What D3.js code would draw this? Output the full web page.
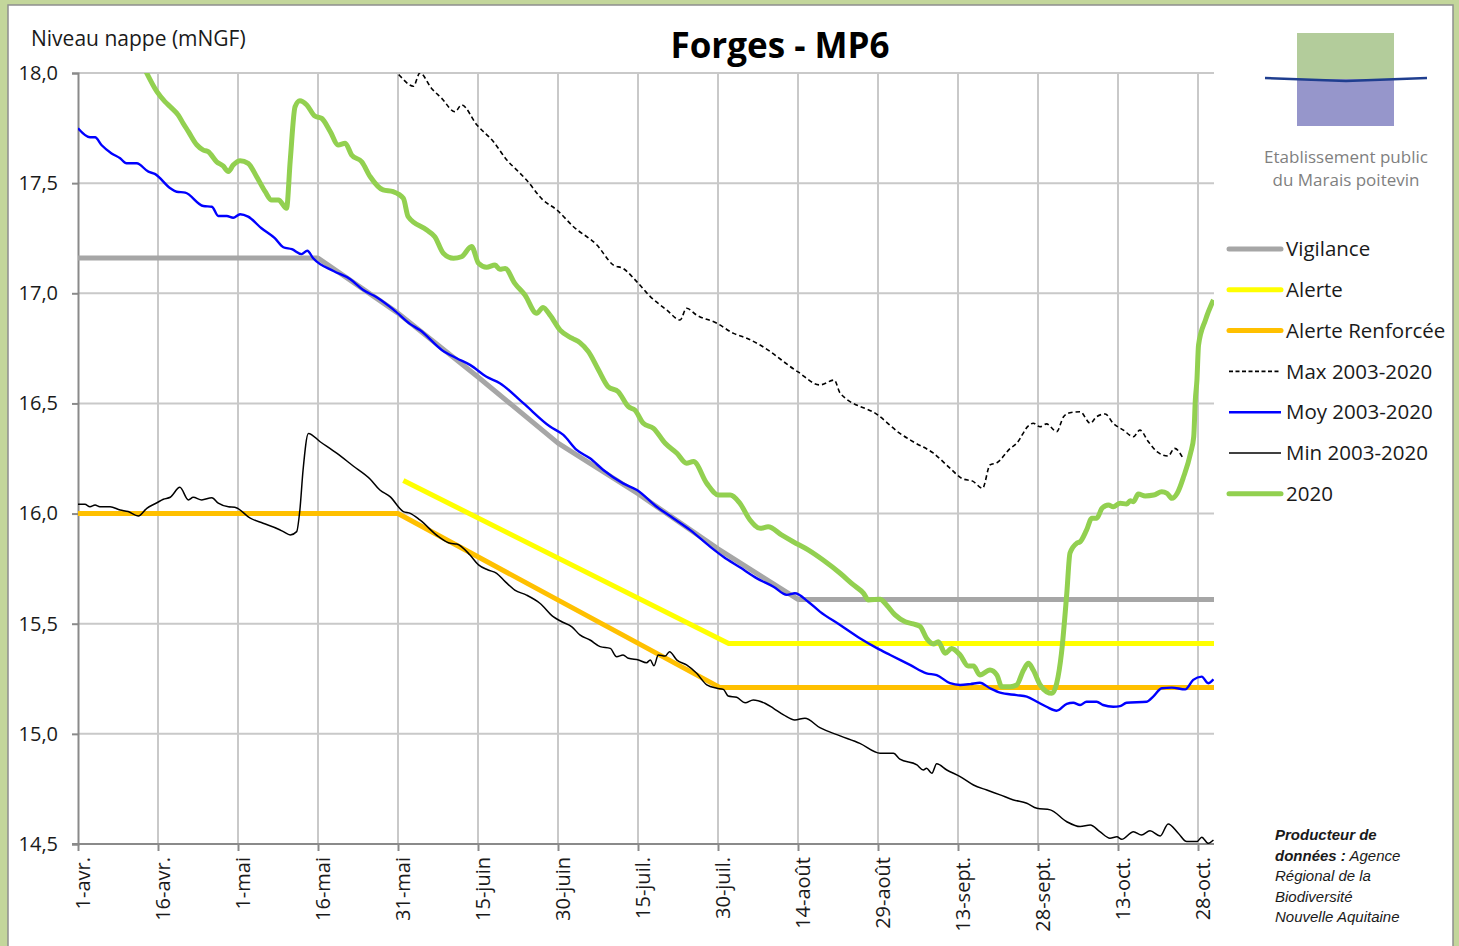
<!DOCTYPE html>
<html>
<head>
    <meta charset="utf-8">
    <title>Forges - MP6</title>
    <style type="text/css">
        body{margin:0;background:#c3d69b;}
        svg{display:block;font-family:'Open Sans', sans-serif;}
    </style>
</head>
<body>
    <script src="https://d3js.org/d3.v7.min.js"></script>
    <script>
      // x values are days since 1 April 2020, y values are levels in mNGF
      var tickDays   = [0, 15, 30, 45, 60, 75, 90, 105, 120, 135, 150, 165, 180, 195, 210];
      var tickLabels = ["1-avr.", "16-avr.", "1-mai", "16-mai", "31-mai", "15-juin", "30-juin", "15-juil.",
                        "30-juil.", "14-août", "29-août", "13-sept.", "28-sept.", "13-oct.", "28-oct."];
      var yTicks = [14.5, 15, 15.5, 16, 16.5, 17, 17.5, 18];

      var vigilance = [[0,17.16],[45,17.16],[60,16.91],[75,16.62],[90,16.32],[105,16.09],[120,15.84],[135,15.61],[213,15.61]];
      var alerte = [[61,16.15],[122,15.41],[213,15.41]];
      var alerteRenforcee = [[0,16.0],[60,16.0],[120.4,15.21],[213,15.21]];

      var maxSerie = [[57,18.06],[59.8,18.0],[62.9,17.94],[64.1,18.0],[66.3,17.93],[68.2,17.885],[70.7,17.824],[71.9,17.855],
        [74.8,17.764],[77.9,17.688],[80.4,17.605],[82.6,17.552],[84.1,17.514],[87.2,17.423],[89.8,17.378],[92.9,17.302],
        [97.3,17.219],[100.4,17.128],[102.2,17.113],[104.8,17.052],[107.3,16.985],[110.4,16.924],[112.9,16.879],[114.1,16.932],
        [116,16.901],[119.8,16.864],[122.9,16.818],[125.4,16.796],[127.9,16.765],[135,16.643],[139.1,16.584],[141.8,16.606],
        [142.9,16.547],[150,16.447],[154.1,16.364],[156.6,16.326],[160.4,16.274],[163.5,16.206],[165.7,16.16],[167.9,16.145],
        [169.6,16.115],[171,16.221],[172.3,16.231],[174.8,16.296],[176,16.319],[178.2,16.398],[179.1,16.41],[180.4,16.394],
        [181.6,16.407],[183.5,16.372],[184.8,16.44],[186,16.458],[187.9,16.462],[189.8,16.41],[191,16.44],[192.6,16.452],
        [194.1,16.41],[196,16.379],[197.9,16.349],[199.1,16.379],[200.7,16.326],[202.3,16.281],[204.4,16.261],[205.6,16.296],
        [207.2,16.251]];

      var moySerie = [[0,17.749],[2.25,17.708],[3.2,17.708],[4.4,17.673],[6.3,17.635],[7.9,17.613],[9.1,17.59],[11,17.59],
        [13.2,17.552],[14.4,17.542],[17.3,17.477],[18.5,17.461],[20.1,17.457],[23.5,17.396],[25.1,17.393],[26.3,17.351],
        [27.9,17.351],[29.1,17.343],[30.4,17.359],[31.9,17.348],[34.4,17.295],[36.9,17.25],[38.5,17.209],[40.1,17.2],
        [41.9,17.178],[43,17.193],[44.1,17.159],[47.9,17.101],[51,17.065],[53.5,17.015],[56,16.982],[59.1,16.927],
        [62.3,16.86],[64.1,16.833],[68.2,16.743],[71,16.705],[73.5,16.675],[76.6,16.621],[79.1,16.592],[83.5,16.501],
        [88.5,16.395],[91,16.357],[93.5,16.289],[96,16.251],[98.5,16.198],[102.2,16.137],[104.8,16.107],[108.5,16.031],
        [111.6,15.979],[114.8,15.925],[118.5,15.85],[121,15.804],[124.1,15.756],[127.3,15.706],[130.4,15.668],[132.9,15.631],
        [134.4,15.638],[136.9,15.6],[139.1,15.555],[142.9,15.494],[146.6,15.434],[149.8,15.389],[152.3,15.358],[156,15.313],
        [159.1,15.275],[161,15.267],[163.5,15.23],[165.4,15.222],[167.3,15.226],[169.1,15.232],[171,15.207],[172.9,15.187],
        [176,15.176],[177.9,15.169],[179.8,15.146],[181.6,15.123],[183.5,15.105],[185.4,15.136],[186.6,15.141],[187.9,15.131],
        [189.1,15.146],[191,15.146],[192.2,15.131],[194.1,15.123],[195.4,15.126],[196.6,15.141],[200.4,15.146],[201.6,15.169],
        [203.2,15.207],[205.1,15.21],[207.6,15.202],[209.1,15.245],[210.7,15.26],[211.9,15.23],[212.9,15.248]];

      var minSerie = [[0,16.042],[1.3,16.042],[2.25,16.031],[3.2,16.039],[4.1,16.031],[6,16.031],[7.9,16.016],[9.4,16.009],
        [11.3,15.989],[12.9,16.024],[14.8,16.049],[16,16.065],[17.3,16.074],[19.1,16.119],[20.7,16.062],[21.6,16.074],
        [23.2,16.062],[25.1,16.072],[26.3,16.047],[28.2,16.031],[29.4,16.029],[32.3,15.979],[34.7,15.956],[37.6,15.929],
        [38.5,15.918],[39.8,15.903],[41,15.918],[41.6,16.016],[42.2,16.198],[43.2,16.364],[45.4,16.326],[48.5,16.274],
        [51.6,16.216],[54.8,16.156],[56.6,16.107],[58.5,16.077],[61,16.009],[62.3,16.001],[64.1,15.971],[67.6,15.895],
        [69.8,15.865],[71,15.862],[73.5,15.812],[75.1,15.767],[76.9,15.744],[78.5,15.729],[80.1,15.691],[81.9,15.653],
        [84.1,15.63],[86.6,15.593],[89.1,15.532],[90.7,15.509],[92.6,15.486],[94.1,15.449],[96,15.426],[97.9,15.396],
        [99.8,15.388],[101,15.35],[102.2,15.358],[103.2,15.343],[105.1,15.335],[106.6,15.323],[107.3,15.335],[108,15.309],
        [108.8,15.358],[110.1,15.353],[110.9,15.373],[112.3,15.335],[114.1,15.313],[116,15.275],[117.9,15.222],[119.8,15.207],
        [121,15.202],[121.9,15.172],[123.5,15.166],[125.1,15.141],[126.6,15.154],[128.8,15.139],[130.4,15.116],[132.3,15.086],
        [134.4,15.063],[136.3,15.071],[139.1,15.028],[142.9,14.991],[146.6,14.957],[150.4,14.912],[152.9,14.912],[154.1,14.885],
        [157.3,14.859],[158.5,14.836],[159.1,14.844],[160.1,14.821],[161,14.864],[162.9,14.836],[165.4,14.806],[167.9,14.768],
        [170.4,14.745],[172.9,14.723],[175.4,14.7],[177.9,14.685],[179.8,14.662],[182.3,14.655],[185.4,14.601],[187.9,14.579],
        [189.8,14.586],[191.6,14.556],[193.5,14.526],[194.8,14.533],[195.7,14.521],[197.9,14.556],[199.4,14.541],[201,14.56],
        [202.9,14.536],[204.4,14.591],[206.3,14.549],[207.9,14.511],[209.8,14.511],[210.7,14.531],[211.9,14.503],[212.9,14.518]];

      var serie2020 = [[11,18.1],[12.9,17.999],[14.8,17.915],[16.3,17.87],[17.3,17.847],[18.8,17.809],[19.7,17.772],[20.7,17.734],
        [22.3,17.673],[23.5,17.65],[24.4,17.643],[26,17.597],[27.2,17.578],[28.2,17.553],[29.1,17.582],[30.4,17.602],
        [31.9,17.59],[33.5,17.529],[35.1,17.461],[36.3,17.423],[37.6,17.423],[39.1,17.386],[39.8,17.605],[40.7,17.847],
        [41.6,17.874],[42.9,17.855],[44.4,17.805],[45.7,17.794],[47.3,17.734],[48.8,17.673],[50.1,17.681],[51.3,17.628],
        [53.2,17.597],[54.8,17.529],[57.2,17.469],[59.1,17.461],[61,17.431],[61.9,17.348],[65.4,17.287],[66.9,17.257],
        [68.5,17.182],[70.4,17.159],[71.9,17.166],[73.8,17.212],[75.1,17.136],[76.6,17.118],[78.2,17.128],[79.1,17.109],
        [80.1,17.113],[81.9,17.045],[83.8,16.992],[86,16.909],[87.2,16.936],[88.5,16.901],[90.4,16.833],[92.6,16.796],
        [94.1,16.776],[95.7,16.735],[97.6,16.652],[99.4,16.576],[101.3,16.553],[103.2,16.485],[104.4,16.47],[106,16.41],
        [107.9,16.387],[110.1,16.319],[112.3,16.274],[114.1,16.229],[115.4,16.236],[117.9,16.137],[120.1,16.084],[122.3,16.084],
        [124.1,16.047],[126,15.971],[127.9,15.933],[129.4,15.94],[131.9,15.903],[134.1,15.872],[136.9,15.835],[139.7,15.789],
        [142.9,15.729],[145.4,15.676],[147.3,15.638],[148.2,15.608],[150.4,15.611],[151.6,15.585],[153.2,15.54],[155.1,15.509],
        [156.6,15.499],[157.9,15.487],[159.1,15.434],[160.4,15.408],[161.3,15.418],[162.6,15.366],[163.8,15.388],[165.4,15.358],
        [166.9,15.308],[167.9,15.308],[169.1,15.267],[171,15.29],[172.3,15.267],[173.2,15.214],[174.8,15.214],[176,15.222],
        [177.3,15.29],[178.2,15.32],[179.1,15.29],[180.4,15.222],[181.6,15.191],[182.6,15.184],[183.5,15.229],[184.4,15.366],
        [185.4,15.638],[186,15.821],[187.3,15.866],[187.9,15.872],[189.1,15.925],[190.1,15.979],[191,15.979],[192,16.024],
        [193.2,16.039],[194.1,16.031],[195.4,16.047],[196.6,16.043],[197.3,16.058],[197.9,16.054],[198.8,16.089],[200.1,16.08],
        [201.7,16.084],[203.2,16.099],[204.2,16.092],[205.1,16.069],[206.1,16.092],[207.3,16.167],[208.6,16.274],[209.2,16.349],
        [209.5,16.516],[209.8,16.606],[210.1,16.765],[211.4,16.879],[212.9,16.97]];

      var legendNames = ["Vigilance", "Alerte", "Alerte Renforcée", "Max 2003-2020", "Moy 2003-2020", "Min 2003-2020", "2020"];

      var series = [
        {name: legendNames[0], data: vigilance, color: "#a6a6a6", width: 5, straight: true},
        {name: legendNames[1], data: alerte, color: "#ffff00", width: 5, straight: true},
        {name: legendNames[2], data: alerteRenforcee, color: "#ffc000", width: 5, straight: true},
        {name: legendNames[3], data: maxSerie, color: "#000", width: 1.6, dash: "4.5,3"},
        {name: legendNames[4], data: moySerie, color: "#0000ff", width: 2.4},
        {name: legendNames[5], data: minSerie, color: "#000", width: 1.5},
        {name: legendNames[6], data: serie2020, color: "#92d050", width: 5}
      ];

      var margin = {top: 73, left: 78},
          width = 1136, height = 771;

      var svg = d3.select("body").append("svg")
          .attr("width", 1459)
          .attr("height", 946);

      svg.append("rect").attr("width", 1459).attr("height", 946).attr("fill", "#c3d69b");
      svg.append("rect")
          .attr("x", 8).attr("y", 5).attr("width", 1445).attr("height", 960)
          .attr("fill", "#fff").attr("stroke", "#8f8f8f").attr("stroke-width", 1.5);

      var xScale = d3.scaleLinear().domain([0, 213]).range([0, width]);
      var yScale = d3.scaleLinear().domain([14.5, 18]).range([height, 0]);

      var chart = svg.append("g")
          .attr("transform", "translate(" + margin.left + "," + margin.top + ")");

      chart.append("clipPath").attr("id", "plot")
          .append("rect").attr("x", 0).attr("y", 0).attr("width", width).attr("height", height);

      // grid
      chart.append("g").selectAll("line.h")
          .data(yTicks).enter().append("line")
          .attr("x1", 0).attr("x2", width)
          .attr("y1", function(d){ return yScale(d); }).attr("y2", function(d){ return yScale(d); })
          .attr("stroke", "#c9c9c9").attr("stroke-width", 2);
      chart.append("g").selectAll("line.v")
          .data(tickDays.slice(1)).enter().append("line")
          .attr("y1", 0).attr("y2", height)
          .attr("x1", function(d){ return xScale(d); }).attr("x2", function(d){ return xScale(d); })
          .attr("stroke", "#c9c9c9").attr("stroke-width", 2);

      // axes
      var yAxis = chart.append("g")
          .call(d3.axisLeft(yScale).tickValues(yTicks).tickSize(6).tickPadding(14)
                .tickFormat(function(d){ return d3.format(".1f")(d).replace(".", ","); }));
      var xAxis = chart.append("g")
          .attr("transform", "translate(0," + height + ")")
          .call(d3.axisBottom(xScale).tickValues(tickDays).tickSize(7)
                .tickFormat(function(d, i){ return tickLabels[i]; }));

      [yAxis, xAxis].forEach(function(a){
        a.select(".domain").attr("stroke", "#8a8a8a").attr("stroke-width", 2);
        a.selectAll(".tick line").attr("stroke", "#8a8a8a").attr("stroke-width", 2);
        a.selectAll("text").attr("font-family", "'Open Sans', sans-serif").attr("font-size", "20px").attr("fill", "#1a1a1a");
      });
      xAxis.select(".domain").attr("d", "M-6,0H" + width);
      xAxis.selectAll("text")
          .attr("transform", "rotate(-90)")
          .attr("text-anchor", "end")
          .attr("x", -13).attr("y", 4).attr("dy", "0.35em");

      // series
      var smooth = d3.line()
          .x(function(d){ return xScale(d[0]); })
          .y(function(d){ return yScale(d[1]); })
          .curve(d3.curveMonotoneX);
      var straight = d3.line()
          .x(function(d){ return xScale(d[0]); })
          .y(function(d){ return yScale(d[1]); });

      var plot = chart.append("g").attr("clip-path", "url(#plot)");
      series.forEach(function(s){
        plot.append("path")
            .datum(s.data)
            .attr("d", s.straight ? straight : smooth)
            .attr("fill", "none")
            .attr("stroke", s.color)
            .attr("stroke-width", s.width)
            .attr("stroke-linejoin", "round")
            .attr("stroke-dasharray", s.dash || null);
      });

      // titles
      svg.append("text")
          .attr("x", 780).attr("y", 58)
          .attr("text-anchor", "middle")
          .attr("font-size", "35px").attr("font-weight", "bold")
          .text("Forges - MP6");
      svg.append("text")
          .attr("x", 31).attr("y", 46)
          .attr("font-size", "21px").attr("fill", "#1a1a1a")
          .text("Niveau nappe (mNGF)");

      // legend
      var legend = svg.append("g").selectAll("g")
          .data(series).enter().append("g")
          .attr("transform", function(d, i){ return "translate(1228," + (249 + i * 40.8) + ")"; });
      legend.append("line")
          .attr("x1", 1).attr("x2", 53)
          .attr("stroke", function(d){ return d.color; })
          .attr("stroke-width", function(d){ return d.width > 3 ? 5 : d.width; })
          .attr("stroke-linecap", function(d){ return d.width > 3 ? "round" : "butt"; })
          .attr("stroke-dasharray", function(d){ return d.dash ? "4,2.5" : null; });
      legend.append("text")
          .attr("x", 58).attr("dy", "0.35em")
          .attr("font-size", "20.5px").attr("fill", "#1a1a1a")
          .text(function(d){ return d.name; });

      // logo
      var logo = svg.append("g");
      logo.append("rect").attr("x", 1297).attr("y", 33).attr("width", 97).attr("height", 47).attr("fill", "#b3cc9b");
      logo.append("rect").attr("x", 1297).attr("y", 79).attr("width", 97).attr("height", 47).attr("fill", "#9696cb");
      logo.append("path").attr("d", "M1265,78 L1346,81 L1427,78")
          .attr("fill", "none").attr("stroke", "#1f3e8f").attr("stroke-width", 2.5);
      logo.selectAll("text")
          .data(["Etablissement public", "du Marais poitevin"]).enter().append("text")
          .attr("x", 1346).attr("y", function(d, i){ return 163 + i * 23; })
          .attr("text-anchor", "middle").attr("font-size", "17px").attr("fill", "#7f7f7f")
          .text(function(d){ return d; });

      // data producer note
      var note = svg.append("text")
          .attr("font-family", "'Liberation Sans', sans-serif")
          .attr("font-size", "15px").attr("font-style", "italic").attr("fill", "#1a1a1a");
      note.append("tspan").attr("x", 1275).attr("y", 840).attr("font-weight", "bold").text("Producteur de");
      var l2 = note.append("tspan").attr("x", 1275).attr("y", 860.5);
      l2.append("tspan").attr("font-weight", "bold").text("données :");
      l2.append("tspan").text(" Agence");
      ["Régional de la", "Biodiversité", "Nouvelle Aquitaine"].forEach(function(t, i){
        note.append("tspan").attr("x", 1275).attr("y", 881 + i * 20.5).text(t);
      });
    </script>
</body>
</html>
